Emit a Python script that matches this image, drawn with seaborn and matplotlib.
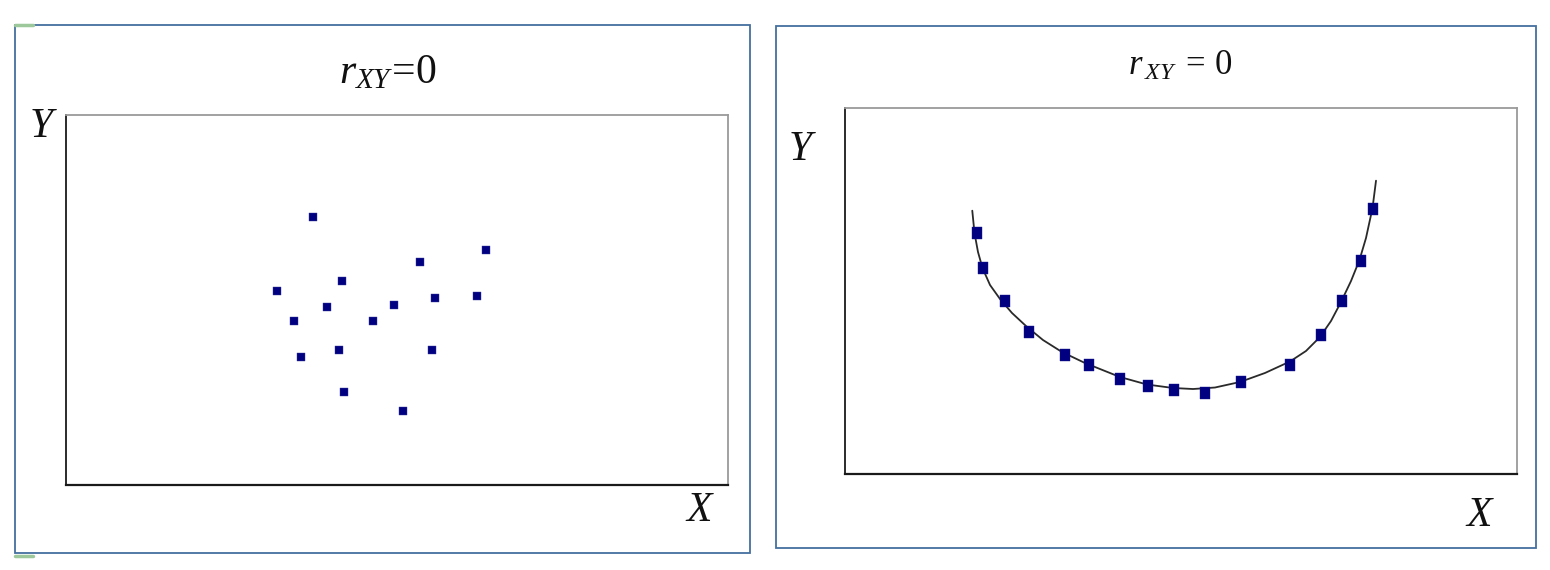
import matplotlib
matplotlib.use("Agg")
import matplotlib.pyplot as plt
import seaborn as sns
import pandas as pd
from matplotlib.patches import Rectangle
from matplotlib.lines import Line2D

# ---------------- data (axes scaled 0..100) ----------------
left_x = [37.3, 63.4, 53.5, 41.7, 31.8, 55.8, 62.1, 39.4, 49.5, 34.4, 46.4, 41.2, 55.3, 35.5, 42.0, 50.9]
left_y = [72.5, 63.6, 60.4, 55.1, 52.4, 50.5, 51.0, 48.2, 48.6, 44.4, 44.4, 36.4, 36.4, 34.6, 25.2, 20.1]

right_x = [19.60, 20.58, 23.77, 27.34, 32.74, 36.35, 40.92, 45.04, 48.96, 53.57,
           58.97, 66.18, 70.83, 73.96, 76.74, 78.53]
right_y = [65.77, 56.37, 47.35, 38.80, 32.60, 29.78, 25.96, 24.13, 23.03, 22.13,
           25.14, 29.78, 37.98, 47.27, 58.20, 72.40]

curve_x = [18.94, 19.27, 19.79, 20.46, 21.58, 23.07, 24.85, 26.93, 29.46, 32.29,
           35.71, 40.92, 44.94, 48.81, 51.79, 55.06, 58.78, 62.50, 66.22, 68.60,
           70.68, 72.32, 73.81, 75.30, 76.56, 77.53, 78.50, 79.02]
curve_y = [71.94, 65.85, 60.66, 56.28, 51.64, 47.81, 43.99, 40.44, 36.61, 33.33,
           30.33, 26.50, 24.45, 23.50, 23.22, 23.63, 25.14, 27.60, 30.74, 33.61,
           37.43, 41.80, 46.99, 52.73, 58.47, 64.48, 72.68, 80.14]

titles = [r"$r_{XY}\!=\!0$", r"$r_{\,XY}\;=\,0$"]
x_label = "X"
y_label = "Y"

# ---------------- style ----------------
sns.set_theme(style="white")
plt.rcParams["mathtext.fontset"] = "custom"
plt.rcParams["mathtext.rm"] = "Liberation Serif"
plt.rcParams["mathtext.it"] = "Liberation Serif:italic"
plt.rcParams["font.family"] = ["Liberation Serif", "DejaVu Sans"]

W, H = 1550, 570
fig = plt.figure(figsize=(W / 100, H / 100), dpi=100)
fig.patch.set_facecolor("white")


def fx(px):
    return px / W


def fy(py):
    return 1 - py / H


frame_col = "#44709e"
# outer frames
for (x0, y0, x1, y1) in [(15, 25, 750, 553), (776, 26, 1536, 548)]:
    fig.patches.append(Rectangle((fx(x0), fy(y1)), fx(x1) - fx(x0), fy(y0) - fy(y1),
                                 transform=fig.transFigure, fill=False,
                                 edgecolor=frame_col, linewidth=1.3, zorder=0))
# small green marks at the left frame corners
for yy in (25, 556):
    fig.lines.append(Line2D([fx(15), fx(33)], [fy(yy), fy(yy)], transform=fig.transFigure,
                            color="#9cc89c", linewidth=2.5))

axL = fig.add_axes([fx(66), fy(485), fx(728) - fx(66), fy(115) - fy(485)])
axR = fig.add_axes([fx(845), fy(474), fx(1517) - fx(845), fy(108) - fy(474)])

dfL = pd.DataFrame({"x": left_x, "y": left_y})
dfR = pd.DataFrame({"x": right_x, "y": right_y})
dfC = pd.DataFrame({"x": curve_x, "y": curve_y})

sns.scatterplot(data=dfL, x="x", y="y", ax=axL, marker="s", s=26,
                color="#000080", edgecolor="#3a3aa0", linewidth=0.3, zorder=3)

sns.lineplot(data=dfC, x="x", y="y", ax=axR, sort=False, estimator=None,
             color="#2a2a2a", linewidth=1.3, zorder=2)
rect_marker = [(-0.82, -1), (0.82, -1), (0.82, 1), (-0.82, 1), (-0.82, -1)]
sns.scatterplot(data=dfR, x="x", y="y", ax=axR, marker=rect_marker, s=75,
                color="#000080", edgecolor="#1a1a90", linewidth=0.3, zorder=3)

for ax in (axL, axR):
    ax.set_xlim(0, 100)
    ax.set_ylim(0, 100)
    ax.set_xticks([])
    ax.set_yticks([])
    ax.set_xlabel("")
    ax.set_ylabel("")
    ax.set_facecolor("white")
    ax.spines["left"].set_color("#1a1a1a")
    ax.spines["bottom"].set_color("#1a1a1a")
    ax.spines["left"].set_linewidth(1.3)
    ax.spines["bottom"].set_linewidth(1.6)
    ax.spines["top"].set_color("#9a9a9a")
    ax.spines["right"].set_color("#9a9a9a")
    ax.spines["top"].set_linewidth(1.3)
    ax.spines["right"].set_linewidth(1.3)
    for s in ax.spines.values():
        s.set_visible(True)

# titles
fig.text(fx(388), fy(83), titles[0], ha="center", va="baseline", fontsize=30, color="#111111")
fig.text(fx(1180), fy(75), titles[1], ha="center", va="baseline", fontsize=25, color="#111111")

# axis letters
lab = dict(ha="center", va="baseline", fontsize=30, style="italic", color="#111111",
           family=["Liberation Serif", "DejaVu Serif"])
fig.text(fx(41), fy(137), y_label, **lab)
fig.text(fx(699), fy(521), x_label, **lab)
fig.text(fx(800), fy(160), y_label, **lab)
fig.text(fx(1479), fy(526), x_label, **lab)

fig.savefig("out.png", dpi=100, facecolor="white")
